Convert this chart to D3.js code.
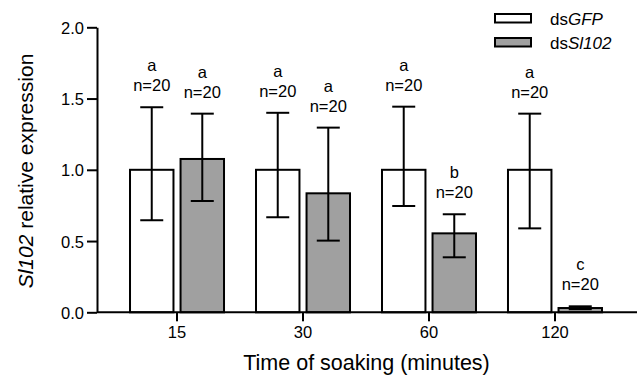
<!DOCTYPE html>
<html>
<head>
<meta charset="utf-8">
<script src="https://cdn.jsdelivr.net/npm/d3@7"></script>
<style>
  body { margin: 0; background: #fff; }
  text { font-family: "Liberation Sans", Arial, sans-serif; fill: #000; }
</style>
</head>
<body>
<div id="chart"></div>
<script>
// data
const times = ["15", "30", "60", "120"];
const groups = ["dsGFP", "dsSl102"];
const gfpMean = [1.0, 1.0, 1.0, 1.0];
const gfpLow = [0.646, 0.667, 0.746, 0.589];
const gfpHigh = [1.439, 1.40, 1.443, 1.394];
const slMean = [1.076, 0.835, 0.554, 0.03];
const slLow = [0.781, 0.503, 0.386, 0.022];
const slHigh = [1.394, 1.296, 0.688, 0.042];
const gfpLetters = ["a", "a", "a", "a"];
const slLetters = ["a", "a", "b", "c"];
const nLabel = "n=20";
const yTicks = [0, 0.5, 1.0, 1.5, 2.0];

const W = 638, H = 377;
const fills = { dsGFP: "#ffffff", dsSl102: "#a0a0a0" };

const svg = d3.select("#chart").append("svg")
    .attr("width", W)
    .attr("height", H);

const y = d3.scaleLinear().domain([0, 2]).range([312.3, 27.3]);
const x = d3.scaleBand().domain(times).range([96, 636]).paddingOuter(0.143).paddingInner(0);
const xs = d3.scaleBand().domain(groups).range([-47, 47]).paddingInner(0.14);

// build rows
const rows = [];
times.forEach(function(t, i) {
    rows.push({t: t, g: "dsGFP", mean: gfpMean[i], lo: gfpLow[i], hi: gfpHigh[i], letter: gfpLetters[i]});
    rows.push({t: t, g: "dsSl102", mean: slMean[i], lo: slLow[i], hi: slHigh[i], letter: slLetters[i]});
});
const cx = d => x(d.t) + x.bandwidth() / 2;

// bars
svg.append("g").selectAll("rect")
    .data(rows)
    .enter().append("rect")
    .attr("x", d => cx(d) + xs(d.g))
    .attr("y", d => y(d.mean))
    .attr("width", xs.bandwidth())
    .attr("height", d => y(0) - y(d.mean))
    .attr("fill", d => fills[d.g])
    .attr("stroke", "#000")
    .attr("stroke-width", 2);

// error bars
const err = svg.append("g").attr("stroke", "#000").attr("stroke-width", 2);
const capW = 11.5;
rows.forEach(function(d) {
    const mx = cx(d) + xs(d.g) + xs.bandwidth() / 2;
    err.append("line").attr("x1", mx).attr("x2", mx).attr("y1", y(d.hi)).attr("y2", y(d.lo));
    err.append("line").attr("x1", mx - capW).attr("x2", mx + capW).attr("y1", y(d.hi)).attr("y2", y(d.hi));
    err.append("line").attr("x1", mx - capW).attr("x2", mx + capW).attr("y1", y(d.lo)).attr("y2", y(d.lo));
});

// letters and n
const ann = svg.append("g").attr("text-anchor", "middle").attr("font-size", "16.5px");
rows.forEach(function(d) {
    const mx = cx(d) + xs(d.g) + xs.bandwidth() / 2;
    ann.append("text").attr("x", mx).attr("y", y(d.hi) - 16).text(nLabel);
    ann.append("text").attr("x", mx).attr("y", y(d.hi) - 36).text(d.letter);
});

// axes
const axisX = d3.axisBottom(x).tickSize(9).tickSizeOuter(0).tickPadding(5);
const gx = svg.append("g")
    .attr("transform", `translate(0,${y(0)})`)
    .call(axisX);
gx.select(".domain").attr("d", `M97,0H637`);

const axisY = d3.axisLeft(y).tickValues(yTicks).tickFormat(d3.format(".1f")).tickSize(10).tickSizeOuter(0).tickPadding(3);
const gy = svg.append("g")
    .attr("transform", "translate(97,0)")
    .call(axisY);

[gx, gy].forEach(function(g) {
    g.selectAll("path, line").attr("stroke", "#000").attr("stroke-width", 2);
    g.selectAll("text").attr("font-size", "16.5px").attr("fill", "#000")
        .attr("font-family", "Liberation Sans, Arial, sans-serif");
});
gy.selectAll("text").attr("dy", "0.36em");

// axis titles
svg.append("text")
    .attr("x", 366.5)
    .attr("y", 370)
    .attr("text-anchor", "middle")
    .attr("font-size", "21.5px")
    .text("Time of soaking (minutes)");

const yt = svg.append("text")
    .attr("transform", "translate(33,171) rotate(-90)")
    .attr("text-anchor", "middle")
    .attr("font-size", "21px");
yt.append("tspan").attr("font-style", "italic").text("Sl102");
yt.append("tspan").text(" relative expression");

// legend
const legendY = [14, 38];
const lg = svg.append("g");
groups.forEach(function(g, i) {
    lg.append("rect")
        .attr("x", 495).attr("y", legendY[i])
        .attr("width", 36).attr("height", 8.5)
        .attr("fill", fills[g]).attr("stroke", "#000").attr("stroke-width", 2);
    const t = lg.append("text").attr("x", 550).attr("y", legendY[i] + 11).attr("font-size", "17px");
    t.append("tspan").text("ds");
    t.append("tspan").attr("font-style", "italic").text(g.slice(2));
});
</script>
</body>
</html>
